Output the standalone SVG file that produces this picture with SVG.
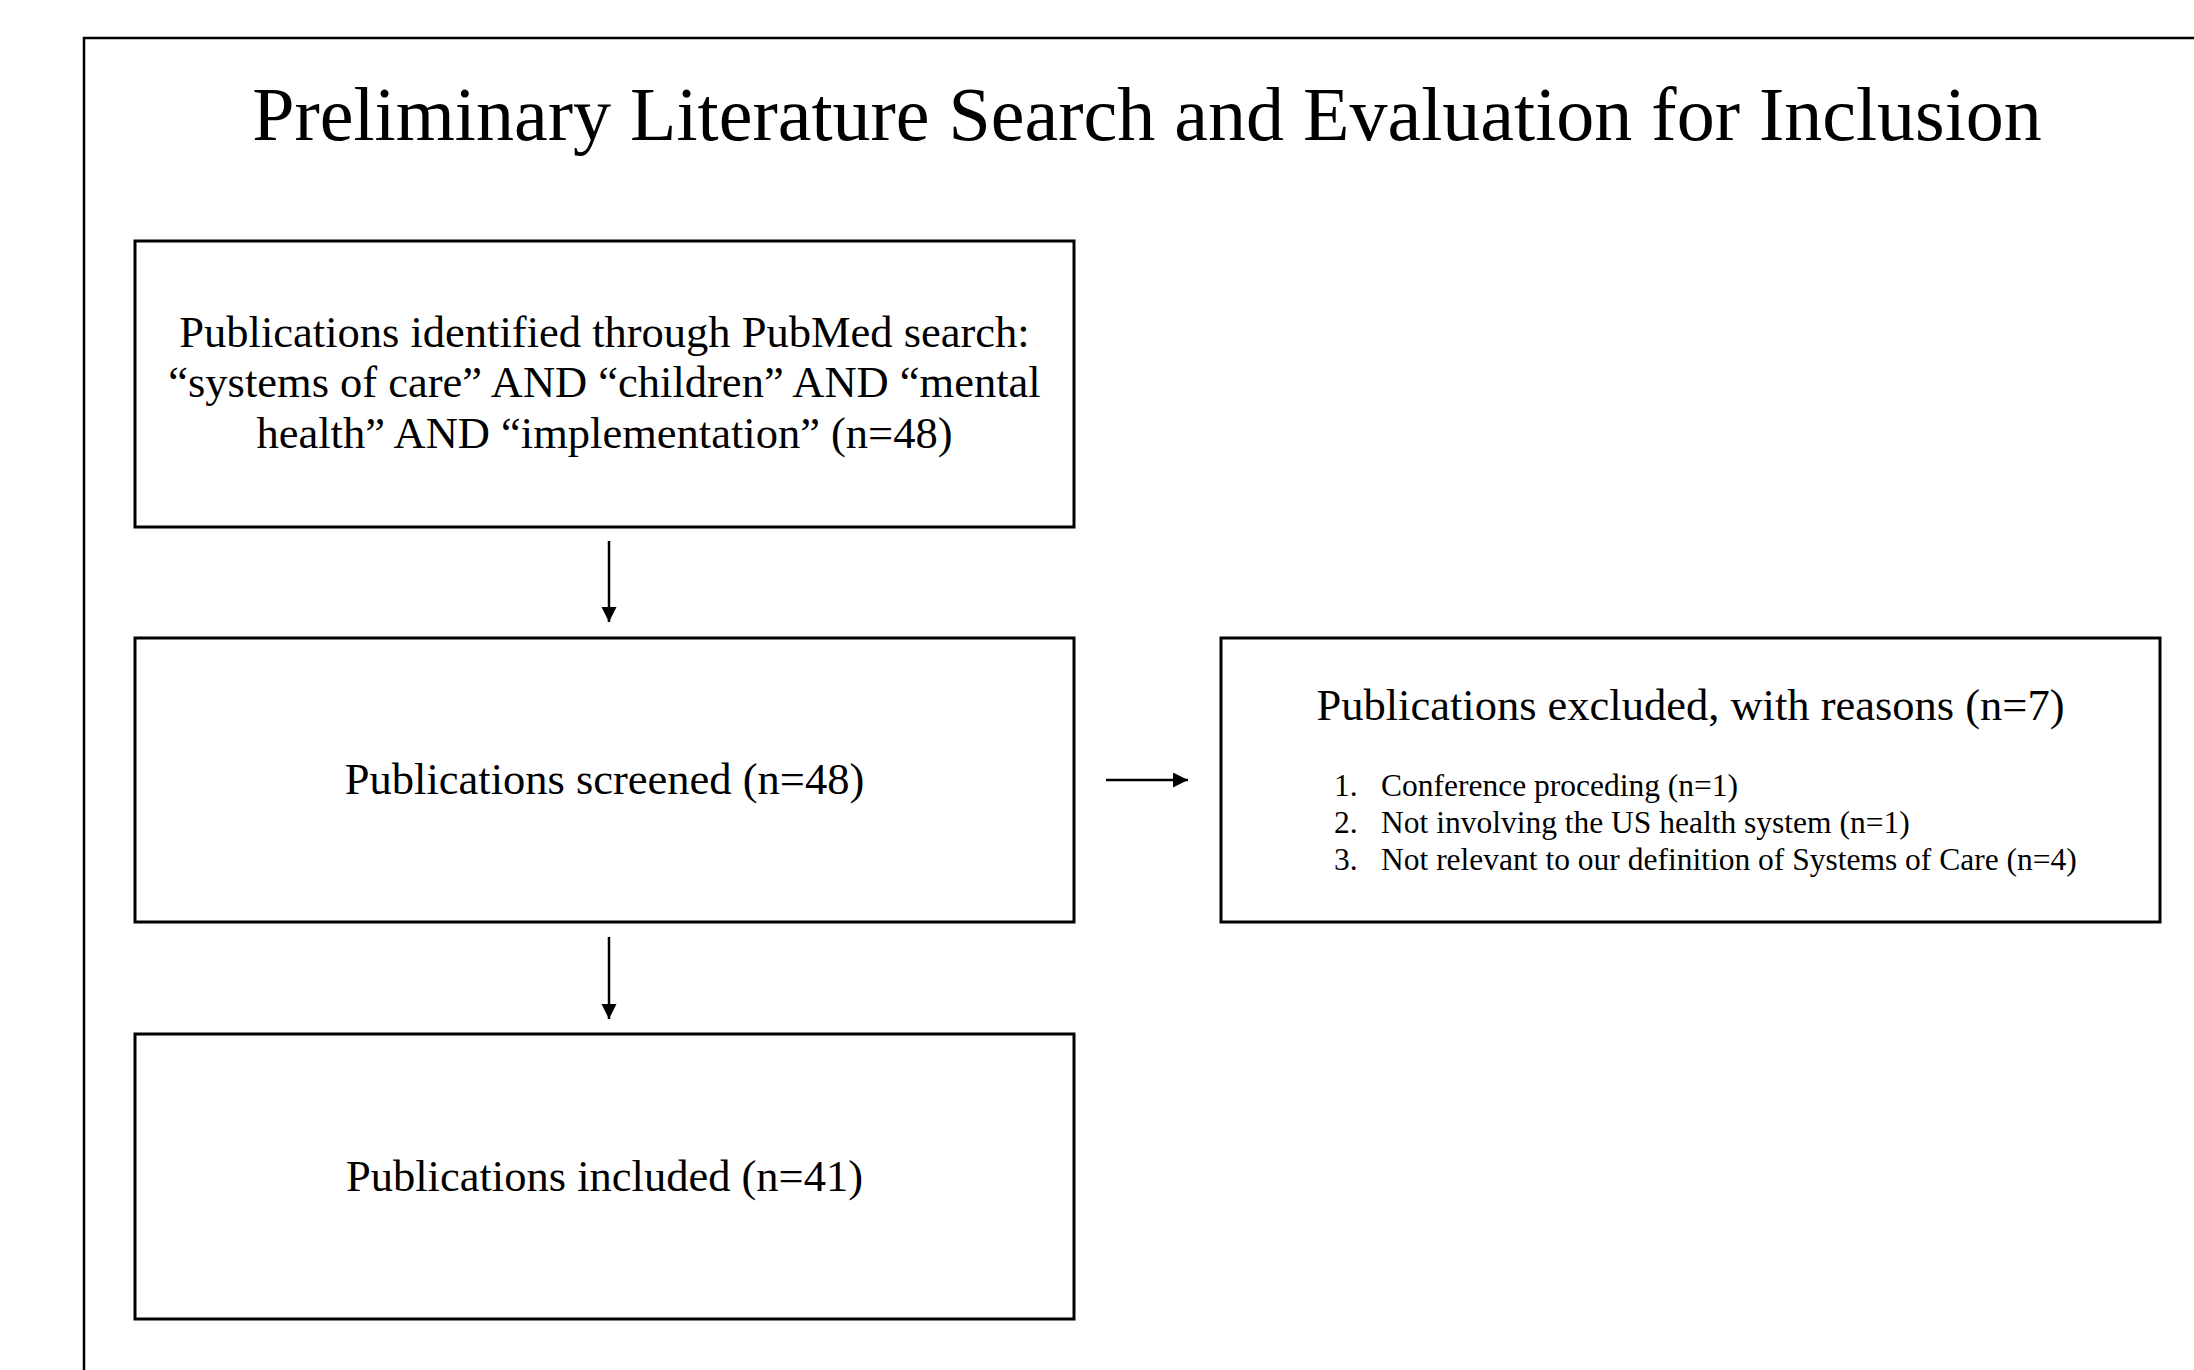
<svg xmlns="http://www.w3.org/2000/svg" width="2194" height="1370" viewBox="0 0 2194 1370">
  <defs>
    <marker id="arrow" markerUnits="userSpaceOnUse" markerWidth="16" markerHeight="16" refX="15" refY="7.5" orient="auto">
      <path d="M0,0 L15,7.5 L0,15 z" fill="#000"/>
    </marker>
  </defs>
  <style>
    .box { fill: #fff; stroke: #000; stroke-width: 3; }
    .t { font-family: "Liberation Serif", "Times New Roman", serif; fill: #000; }
    .main { font-size: 44.5px; text-anchor: middle; }
    .list { font-size: 31.5px; }
    .conn { stroke: #000; stroke-width: 2.5; fill: none; marker-end: url(#arrow); }
  </style>
  <rect x="0" y="0" width="2194" height="1370" fill="#fff"/>
  <rect x="84" y="38" width="2200" height="1400" fill="none" stroke="#000" stroke-width="2.5"/>
  <text class="t" x="1147" y="140" font-size="76" text-anchor="middle">Preliminary Literature Search and Evaluation for Inclusion</text>

  <g id="node-identified">
    <rect class="box" x="135" y="241" width="939" height="286"/>
    <text class="t main" x="604.5" y="347">Publications identified through PubMed search:</text>
    <text class="t main" x="604.5" y="397">“systems of care” AND “children” AND “mental</text>
    <text class="t main" x="604.5" y="448">health” AND “implementation” (n=48)</text>
  </g>

  <g id="node-screened">
    <rect class="box" x="135" y="638" width="939" height="284"/>
    <text class="t main" x="604.5" y="794">Publications screened (n=48)</text>
  </g>

  <g id="node-included">
    <rect class="box" x="135" y="1034" width="939" height="285"/>
    <text class="t main" x="604.5" y="1191">Publications included (n=41)</text>
  </g>

  <g id="node-excluded">
    <rect class="box" x="1221" y="638" width="939" height="284"/>
    <text class="t main" x="1690.5" y="720">Publications excluded, with reasons (n=7)</text>
    <text class="t list" x="1334" y="796">1.</text>
    <text class="t list" x="1381" y="796">Conference proceding (n=1)</text>
    <text class="t list" x="1334" y="833">2.</text>
    <text class="t list" x="1381" y="833">Not involving the US health system (n=1)</text>
    <text class="t list" x="1334" y="870">3.</text>
    <text class="t list" x="1381" y="870">Not relevant to our definition of Systems of Care (n=4)</text>
  </g>

  <g id="connectors">
    <line class="conn" x1="609" y1="541" x2="609" y2="622"/>
    <line class="conn" x1="609" y1="937" x2="609" y2="1019"/>
    <line class="conn" x1="1106" y1="780" x2="1188" y2="780"/>
  </g>
</svg>
